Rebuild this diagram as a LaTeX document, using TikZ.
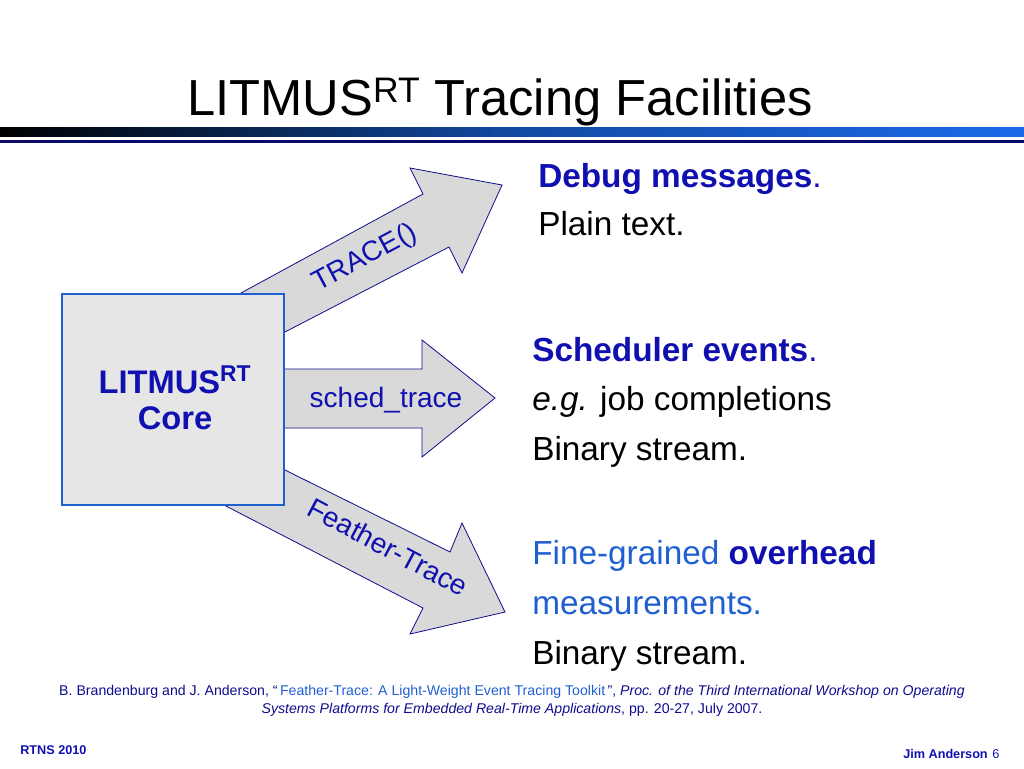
\documentclass[tikz,border=0pt]{standalone}
\usepackage{fontspec}
\setmainfont{Liberation Sans}
\usetikzlibrary{positioning}
\definecolor{navy}{HTML}{1010B0}
\definecolor{midblue}{HTML}{1F5FD0}
\definecolor{arrowgray}{HTML}{D9D9D9}
\definecolor{boxgray}{HTML}{E6E6E6}
\definecolor{barblue}{HTML}{1A6AE8}
\begin{document}
\begin{tikzpicture}[x=0.75pt, y=-0.75pt,
    fatarrow/.style={fill=arrowgray, draw=navy!80!black, line width=0.6pt},
    arrowlabel/.style={text=navy, font=\fontsize{21}{24}\selectfont},
    line/.style={anchor=base west, inner sep=0pt, font=\fontsize{25}{30}\selectfont}]
    % Page and margins
    \useasboundingbox (0,0) rectangle (1024,768);

    % Header bar
    \shade[left color=black, right color=barblue, middle color=barblue!70!black] (0,127) rectangle (1024,136);
    \fill[navy!60!black] (0,140) rectangle (1024,143);
    \node[anchor=base, inner sep=0pt, font=\fontsize{38}{44}\selectfont] (title) at (500,115) {LITMUS\textsuperscript{RT} Tracing Facilities};

    % Fat arrows leaving the core
    \draw[fatarrow] (241,293) -- (423,194) -- (410,168) -- (502,185) -- (462,273) -- (449,247) -- (283,333) -- cycle;
    \draw[fatarrow] (283,369) -- (422,369) -- (422,340) -- (495,398) -- (422,457) -- (422,428) -- (283,428) -- cycle;
    \draw[fatarrow] (224,505) -- (423,608) -- (410,634) -- (505,612) -- (462,523) -- (450,552) -- (283,469) -- cycle;

    % Core box
    \node[draw=midblue, fill=boxgray, line width=1.5pt, minimum width=222*0.75pt, minimum height=211*0.75pt,
          anchor=north west, inner sep=0pt] (core) at (61,293) {};
    \node[text=navy, align=center, font=\fontsize{24.5}{29}\selectfont\bfseries] (corelbl) at (175,398)
          {LITMUS\textsuperscript{RT}\\[-2pt]Core};

    % Arrow labels
    \node[arrowlabel, rotate=28] (tracelbl) at (365,258) {TRACE()};
    \node[arrowlabel] (schedlbl) at (386,400) {sched\_trace};
    \node[arrowlabel, rotate=-28] (featherlbl) at (388,547) {Feather-Trace};

    % Descriptions
    \node[line, text=navy] (debug) at (538,187) {\textbf{Debug messages}.};
    \node[line] (plain) at (538,235) {Plain text.};
    \node[line, text=navy] (sched) at (532,361) {\textbf{Scheduler events}.};
    \node[line] (eg) at (532,410) {\textit{e.g.} job completions};
    \node[line] (bin1) at (532,460) {Binary stream.};
    \node[line, text=midblue] (fine) at (532,564) {Fine-grained \textbf{\color{navy}overhead}};
    \node[line, text=midblue] (meas) at (532,614) {measurements.};
    \node[line] (bin2) at (532,664) {Binary stream.};

    % Citation and footer
    \node[anchor=north, inner sep=0pt, align=center, font=\fontsize{10.6}{13.5}\selectfont, text=navy!80!black] (cite) at (512,685)
        {B. Brandenburg and J. Anderson, ``\,\textcolor{midblue}{Feather-Trace: A Light-Weight Event Tracing Toolkit}\,'', \textit{Proc. of the Third International Workshop on Operating}\\
         \textit{Systems Platforms for Embedded Real-Time Applications}, pp. 20-27, July 2007.};
    \node[anchor=base west, inner sep=0pt, text=navy, font=\fontsize{9.5}{11}\selectfont\bfseries] (conf) at (20,754) {RTNS 2010};
    \node[anchor=base east, inner sep=0pt, text=navy, font=\fontsize{9.5}{11}\selectfont\bfseries] (author) at (988,758) {Jim Anderson};
    \node[anchor=base west, inner sep=0pt, text=navy, font=\fontsize{9.5}{11}\selectfont] (page) at (992,758) {6};
\end{tikzpicture}
\end{document}
